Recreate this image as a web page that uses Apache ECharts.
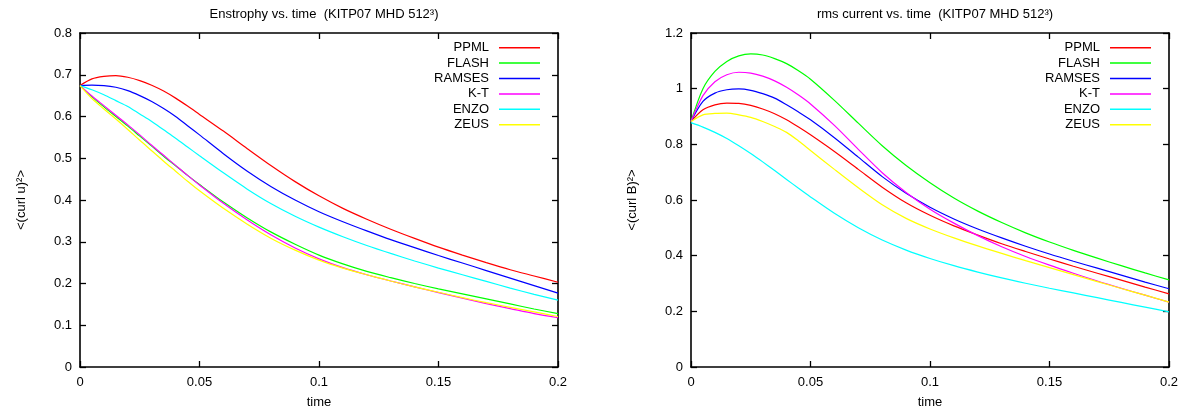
<!DOCTYPE html>
<html>
<head>
<meta charset="utf-8">
<script src="https://cdn.jsdelivr.net/npm/echarts@6/dist/echarts.min.js"></script>
<style>
  html, body { margin: 0; padding: 0; background: #fff; }
  #chart { width: 1186px; height: 416px; }
</style>
</head>
<body>
<div id="chart"></div>
<script>
// ---- data ----
const SERIES_NAMES = ['PPML', 'FLASH', 'RAMSES', 'K-T', 'ENZO', 'ZEUS'];
const SERIES_COLORS = ['#ff0000', '#00ff00', '#0000ff', '#ff00ff', '#00ffff', '#ffff00'];

const TIME = [0, 0.005, 0.01, 0.015, 0.02, 0.025, 0.03, 0.035, 0.04, 0.045, 0.05,
              0.06, 0.07, 0.08, 0.09, 0.1, 0.11, 0.12, 0.13, 0.14, 0.15,
              0.16, 0.17, 0.18, 0.19, 0.2];

// Enstrophy <(curl u)^2>
const ENS_PPML   = [0.674, 0.690, 0.696, 0.698, 0.694, 0.686, 0.675, 0.661, 0.644, 0.625, 0.605,
                    0.565, 0.523, 0.482, 0.444, 0.410, 0.380, 0.354, 0.330, 0.308, 0.287,
                    0.268, 0.250, 0.233, 0.218, 0.203];
const ENS_FLASH  = [0.674, 0.647, 0.623, 0.600, 0.577, 0.553, 0.529, 0.505, 0.482, 0.459, 0.437,
                    0.395, 0.357, 0.323, 0.294, 0.268, 0.247, 0.229, 0.214, 0.200, 0.187,
                    0.175, 0.163, 0.151, 0.139, 0.128];
const ENS_RAMSES = [0.674, 0.675, 0.674, 0.670, 0.662, 0.650, 0.636, 0.619, 0.600, 0.578, 0.556,
                    0.511, 0.469, 0.432, 0.400, 0.372, 0.348, 0.326, 0.305, 0.286, 0.267,
                    0.249, 0.231, 0.213, 0.195, 0.177];
const ENS_KT     = [0.674, 0.649, 0.626, 0.603, 0.580, 0.556, 0.531, 0.507, 0.483, 0.459, 0.436,
                    0.392, 0.352, 0.316, 0.285, 0.259, 0.238, 0.221, 0.206, 0.192, 0.178,
                    0.165, 0.152, 0.140, 0.128, 0.118];
const ENS_ENZO   = [0.674, 0.664, 0.652, 0.638, 0.624, 0.606, 0.588, 0.568, 0.548, 0.527, 0.506,
                    0.465, 0.426, 0.391, 0.361, 0.335, 0.312, 0.291, 0.272, 0.254, 0.237,
                    0.221, 0.205, 0.189, 0.174, 0.160];
const ENS_ZEUS   = [0.674, 0.643, 0.618, 0.594, 0.569, 0.543, 0.518, 0.493, 0.469, 0.445, 0.422,
                    0.380, 0.342, 0.308, 0.280, 0.256, 0.237, 0.221, 0.206, 0.192, 0.179,
                    0.166, 0.154, 0.143, 0.132, 0.121];

// rms current <(curl B)^2>
const CUR_PPML   = [0.882, 0.924, 0.942, 0.948, 0.947, 0.940, 0.927, 0.910, 0.888, 0.862, 0.834,
                    0.774, 0.710, 0.646, 0.590, 0.545, 0.507, 0.474, 0.443, 0.415, 0.388,
                    0.362, 0.337, 0.312, 0.287, 0.263];
const CUR_FLASH  = [0.882, 1.000, 1.062, 1.098, 1.118, 1.125, 1.121, 1.108, 1.090, 1.064, 1.034,
                    0.958, 0.876, 0.795, 0.724, 0.662, 0.607, 0.560, 0.519, 0.482, 0.449,
                    0.419, 0.391, 0.364, 0.338, 0.313];
const CUR_RAMSES = [0.882, 0.954, 0.984, 0.996, 0.999, 0.994, 0.982, 0.966, 0.942, 0.916, 0.888,
                    0.824, 0.754, 0.684, 0.624, 0.574, 0.532, 0.496, 0.464, 0.434, 0.406,
                    0.380, 0.355, 0.330, 0.305, 0.281];
const CUR_KT     = [0.882, 0.975, 1.025, 1.050, 1.059, 1.056, 1.045, 1.028, 1.005, 0.977, 0.945,
                    0.868, 0.782, 0.698, 0.627, 0.567, 0.517, 0.472, 0.432, 0.397, 0.366,
                    0.337, 0.309, 0.283, 0.258, 0.233];
const CUR_ENZO   = [0.878, 0.862, 0.843, 0.821, 0.795, 0.767, 0.737, 0.706, 0.674, 0.642, 0.611,
                    0.552, 0.500, 0.456, 0.420, 0.390, 0.364, 0.341, 0.320, 0.301, 0.283,
                    0.266, 0.249, 0.232, 0.215, 0.198];
const CUR_ZEUS   = [0.882, 0.906, 0.911, 0.912, 0.906, 0.897, 0.882, 0.864, 0.843, 0.812, 0.778,
                    0.710, 0.644, 0.583, 0.534, 0.496, 0.464, 0.435, 0.408, 0.382, 0.357,
                    0.332, 0.307, 0.282, 0.258, 0.233];

const X_TICKS = [0, 0.05, 0.1, 0.15, 0.2];
const Y_TICKS_LEFT = [0, 0.1, 0.2, 0.3, 0.4, 0.5, 0.6, 0.7, 0.8];
const Y_TICKS_RIGHT = [0, 0.2, 0.4, 0.6, 0.8, 1, 1.2];

const TITLE_LEFT = 'Enstrophy vs. time  (KITP07 MHD 512\u00B3)';
const TITLE_RIGHT = 'rms current vs. time  (KITP07 MHD 512\u00B3)';
const YNAME_LEFT = '<(curl u)\u00B2>';
const YNAME_RIGHT = '<(curl B)\u00B2>';
const XNAME = 'time';

// ---- chart ----
const FONT = "'Liberation Sans', Arial, Helvetica, sans-serif";
const ENS = [ENS_PPML, ENS_FLASH, ENS_RAMSES, ENS_KT, ENS_ENZO, ENS_ZEUS];
const CUR = [CUR_PPML, CUR_FLASH, CUR_RAMSES, CUR_KT, CUR_ENZO, CUR_ZEUS];

function pairs(vals) { return TIME.map((t, i) => [t, vals[i]]); }
function step(ticks) { return ticks[1] - ticks[0]; }

const lineAx = { show: true, onZero: false, lineStyle: { color: '#000', width: 1.6 } };
const tickAx = { show: true, inside: true, length: 6, lineStyle: { color: '#000', width: 1.3 } };
const labelAx = { show: true, color: '#000', fontSize: 13, fontFamily: FONT };

function xAx(grid, pos, withLabel) {
  return {
    type: 'value', gridIndex: grid, position: pos,
    min: X_TICKS[0], max: X_TICKS[X_TICKS.length - 1], interval: step(X_TICKS),
    axisLine: lineAx, axisTick: tickAx,
    axisLabel: withLabel ? Object.assign({ margin: 9 }, labelAx) : { show: false },
    splitLine: { show: false },
    name: withLabel ? XNAME : '', nameLocation: 'middle', nameGap: 29,
    nameTextStyle: { color: '#000', fontSize: 13, fontFamily: FONT }
  };
}
function yAx(grid, pos, ticks, withLabel, name) {
  return {
    type: 'value', gridIndex: grid, position: pos,
    min: ticks[0], max: ticks[ticks.length - 1], interval: step(ticks),
    axisLine: lineAx, axisTick: tickAx,
    axisLabel: withLabel ? Object.assign({ margin: 8 }, labelAx) : { show: false },
    splitLine: { show: false },
    name: withLabel ? name : '', nameLocation: 'middle', nameGap: 52, nameRotate: 90,
    nameTextStyle: { color: '#000', fontSize: 13, fontFamily: FONT }
  };
}

const series = [];
SERIES_NAMES.forEach((n, k) => {
  series.push({
    name: n, type: 'line', xAxisIndex: 0, yAxisIndex: 0,
    data: pairs(ENS[k]), showSymbol: false, symbol: 'none', smooth: 0.3,
    lineStyle: { color: SERIES_COLORS[k], width: 1.2 }, itemStyle: { color: SERIES_COLORS[k] }
  });
});
SERIES_NAMES.forEach((n, k) => {
  series.push({
    name: n, type: 'line', xAxisIndex: 2, yAxisIndex: 2,
    data: pairs(CUR[k]), showSymbol: false, symbol: 'none', smooth: 0.3,
    lineStyle: { color: SERIES_COLORS[k], width: 1.2 }, itemStyle: { color: SERIES_COLORS[k] }
  });
});

function legend(rightPx) {
  return {
    data: SERIES_NAMES, orient: 'vertical', align: 'right', padding: 0,
    right: rightPx, top: 40, icon: 'rect', itemWidth: 41, itemHeight: 1.5, itemGap: 0,
    textStyle: { color: '#000', fontSize: 13, fontFamily: FONT, lineHeight: 15.4, padding: [0, 5, 0, 0] },
    selectedMode: false
  };
}

const chart = echarts.init(document.getElementById('chart'), null, { renderer: 'canvas' });
chart.setOption({
  animation: false,
  backgroundColor: '#fff',
  title: [
    { text: TITLE_LEFT, left: 319, top: 3, textAlign: 'center',
      textStyle: { color: '#000', fontSize: 13, fontWeight: 'normal', fontFamily: FONT } },
    { text: TITLE_RIGHT, left: 930, top: 3, textAlign: 'center',
      textStyle: { color: '#000', fontSize: 13, fontWeight: 'normal', fontFamily: FONT } }
  ],
  legend: [legend(646), legend(35)],
  grid: [
    { left: 80, top: 33, width: 478, height: 334 },
    { left: 691, top: 33, width: 478, height: 334 }
  ],
  xAxis: [xAx(0, 'bottom', true), xAx(0, 'top', false), xAx(1, 'bottom', true), xAx(1, 'top', false)],
  yAxis: [yAx(0, 'left', Y_TICKS_LEFT, true, YNAME_LEFT), yAx(0, 'right', Y_TICKS_LEFT, false, ''),
          yAx(1, 'left', Y_TICKS_RIGHT, true, YNAME_RIGHT), yAx(1, 'right', Y_TICKS_RIGHT, false, '')],
  series: series
});
</script>
</body>
</html>
